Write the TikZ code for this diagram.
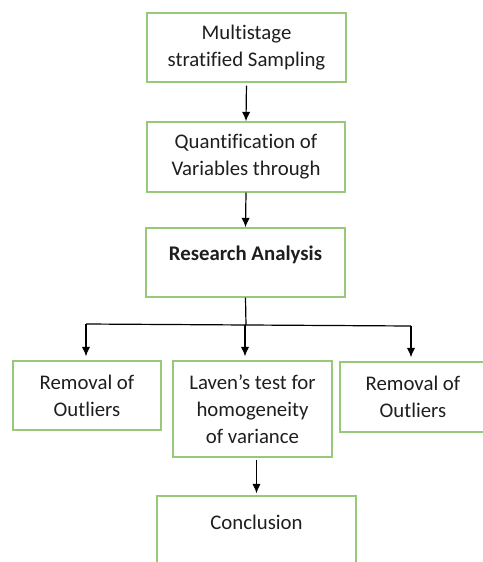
\documentclass[tikz,border=0pt]{standalone}
\usepackage{fontspec}
\setmainfont[Ligatures=NoCommon]{Carlito}
\usetikzlibrary{arrows.meta}
\definecolor{boxgreen}{RGB}{152,200,122}
\definecolor{txt}{RGB}{30,30,30}
\tikzset{
  lbl/.style={align=center, text=txt, font=\fontsize{15.6}{20.25}\selectfont, inner sep=0pt},
  box/.style={lbl, draw=boxgreen, line width=1.1pt, rectangle},
  arr/.style={draw=black, line width=0.9pt, -{Latex[length=7pt,width=6.2pt]}},
  ln/.style={draw=black, line width=0.9pt}
}
\begin{document}
\begin{tikzpicture}[x=0.75pt,y=-0.75pt]
\useasboundingbox (0,0) rectangle (483,562);
\clip (0,0) rectangle (483,562);
% boxes
\node[box, minimum width=149.25pt, minimum height=51.75pt] (b1) at (246.5,47.5) {Multistage\\stratified Sampling};
\node[box, minimum width=148.5pt, minimum height=52.5pt] (b2) at (246,157) {Quantification of\\Variables through};
\node[box, minimum width=149.25pt, minimum height=51.75pt] (b3) at (245.5,262.5) {};
\node[lbl, font=\fontsize{15.6}{20.25}\selectfont\bfseries] (t3) at (245.5,254.5) {Research Analysis};
\node[box, minimum width=111pt, minimum height=51.75pt] (bl) at (87,395.5) {Removal of\\Outliers};
\node[box, minimum width=119.25pt, minimum height=72pt] (bm) at (252.5,409) {Laven’s test for\\homogeneity\\of variance};
\node[box, minimum width=109.5pt, minimum height=52.5pt] (br) at (413,397) {Removal of\\Outliers};
\node[box, minimum width=149.25pt, minimum height=60pt] (bc) at (256.5,536) {};
\node[lbl] (tc) at (256.5,522) {Conclusion};
% connectors
\draw[arr, shorten <=2.25pt] (b1.south) -- (b2.north);
\draw[arr] (b2.south) -- (b3.north);
\coordinate (j) at (246,325);
\coordinate (jl) at (86,324);
\coordinate (jm) at (245,325);
\coordinate (jr) at (411,326);
\draw[ln] (b3.south) -- (j);
\draw[ln] (jl) -- (jr);
\draw[arr, shorten >=3pt] (jl) -- (jl |- bl.north);
\draw[arr, shorten >=3pt] (jm) -- (jm |- bm.north);
\draw[arr, shorten >=3pt] (jr) -- (jr |- br.north);
\draw[arr, shorten <=1.5pt, shorten >=1.5pt] (bc.north |- bm.south) -- (bc.north);
\end{tikzpicture}
\end{document}
